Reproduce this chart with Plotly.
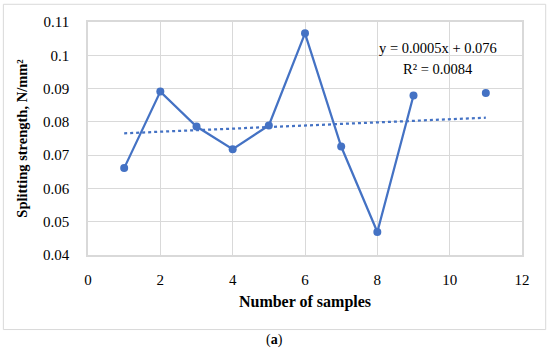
import numpy as np
import plotly.graph_objects as go

sample_no = [1, 2, 3, 4, 5, 6, 7, 8, 9, 11]
strength = [0.0661, 0.0891, 0.0786, 0.0718, 0.0789, 0.1066, 0.0726, 0.0469, 0.0879, 0.0887]
x_ticks = [0, 2, 4, 6, 8, 10, 12]
y_ticks = [0.04, 0.05, 0.06, 0.07, 0.08, 0.09, 0.1, 0.11]
y_labels = ["0.04", "0.05", "0.06", "0.07", "0.08", "0.09", "0.1", "0.11"]

BLUE = "#4472C4"
GRID = "#d9d9d9"
FONT = "Liberation Serif"

# connected part (samples 1-9), isolated point at 11
line_x = sample_no[:9]
line_y = strength[:9]

slope, intercept = np.polyfit(sample_no, strength, 1)
trend_x = [min(sample_no), max(sample_no)]
trend_y = [slope * v + intercept for v in trend_x]

fig = go.Figure()
fig.add_trace(go.Scatter(x=line_x, y=line_y, mode="lines+markers",
                         line=dict(color=BLUE, width=2.25),
                         marker=dict(color=BLUE, size=8), showlegend=False))
fig.add_trace(go.Scatter(x=sample_no[9:], y=strength[9:], mode="markers",
                         marker=dict(color=BLUE, size=8), showlegend=False))
fig.add_trace(go.Scatter(x=trend_x, y=trend_y, mode="lines",
                         line=dict(color=BLUE, width=2.25, dash="dot"), showlegend=False))

fig.update_layout(
    width=550, height=349,
    margin=dict(l=88, r=28, t=22, b=94),
    paper_bgcolor="white", plot_bgcolor="white",
    font=dict(family=FONT, size=15, color="#000000"),
    xaxis=dict(range=[0, 12], tickvals=x_ticks, showgrid=True, gridcolor=GRID, gridwidth=1,
               zeroline=False, showline=True, linecolor=GRID, linewidth=1.5, mirror=True,
               ticks="", ticklabelstandoff=10,
               title=dict(text="<b>Number of samples</b>", font=dict(size=16), standoff=9)),
    yaxis=dict(range=[0.04, 0.11], tickvals=y_ticks, ticktext=y_labels, showgrid=True,
               gridcolor=GRID, gridwidth=1, zeroline=False, showline=True, linecolor=GRID,
               linewidth=1.5, mirror=True, ticks="", ticklabelstandoff=14,
               title=dict(text="<b>Splitting strength, N/mm²</b>", font=dict(size=14.5), standoff=12)),
    annotations=[
        dict(x=0.806, y=0.888, xref="paper", yref="paper", showarrow=False,
             text="y = 0.0005x + 0.076", font=dict(size=14.5), xanchor="center", yanchor="middle"),
        dict(x=0.806, y=0.799, xref="paper", yref="paper", showarrow=False,
             text="R² = 0.0084", font=dict(size=14.5), xanchor="center", yanchor="middle"),
        dict(x=0.4286, y=-0.366, xref="paper", yref="paper", showarrow=False,
             text="(<b>a</b>)", font=dict(size=14), xanchor="center", yanchor="middle"),
    ],
    shapes=[dict(type="rect", xref="paper", yref="paper", x0=-0.195, x1=1.0546,
                 y0=-0.32, y1=1.076, line=dict(color=GRID, width=1))],
)

fig.write_html("out.html", config={"displayModeBar": False},
               post_script="document.body.style.margin='0';document.body.style.overflow='hidden';")
